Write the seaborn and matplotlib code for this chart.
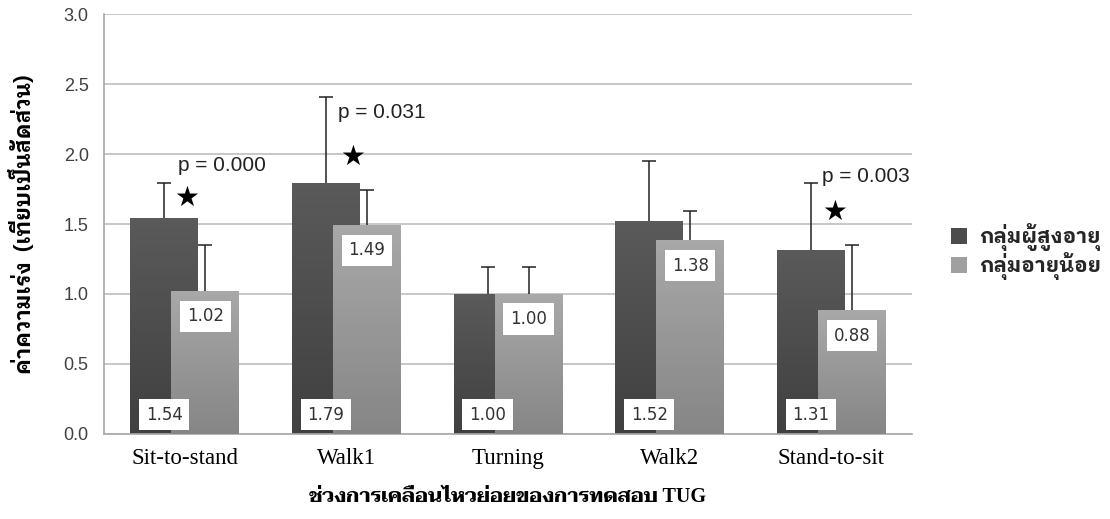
import matplotlib
matplotlib.use("Agg")
import matplotlib.pyplot as plt
import numpy as np
import pandas as pd
import seaborn as sns
from matplotlib.colors import LinearSegmentedColormap

phases = ['Sit-to-stand', 'Walk1', 'Turning', 'Walk2', 'Stand-to-sit']
elderly = [1.54, 1.79, 1.00, 1.52, 1.31]
elderly_sd = [0.25, 0.62, 0.19, 0.43, 0.48]
young = [1.02, 1.49, 1.00, 1.38, 0.88]
young_sd = [0.33, 0.25, 0.19, 0.21, 0.47]
groups = ['กลุ่มผู้สูงอายุ', 'กลุ่มอายุน้อย']
p_labels = {0: 'p = 0.000', 1: 'p = 0.031', 4: 'p = 0.003'}

THAI = ['IBM Plex Sans Thai Looped', 'DejaVu Sans']
THAI_SERIF = ['Liberation Serif', 'Taviraj']

sns.set_theme(style='white')
plt.rcParams['font.family'] = ['Liberation Sans', 'IBM Plex Sans Thai Looped']

fig = plt.figure(figsize=(11.1, 5.19), dpi=100)
ax = fig.add_axes([0.0937, 0.1638, 0.728, 0.8092])

width = 0.42
shift = 0.127
series = [
    (elderly, elderly_sd, groups[0], '#4c4c4c', ('#5a5a5a', '#404040'), -shift, 2),
    (young, young_sd, groups[1], '#a0a0a0', ('#a8a8a8', '#868686'), shift, 4),
]

handles = []
for vals, sd, name, color, grad, off, z in series:
    df = pd.DataFrame({'phase': phases, 'value': vals})
    before = len(ax.patches)
    sns.barplot(data=df, x='phase', y='value', color=color, width=width,
                errorbar=None, ax=ax, zorder=z, saturation=1, label=name)
    bars = ax.patches[before:]
    handles.append(bars[0])
    xs = []
    for b in bars:
        b.set_x(b.get_x() + off)
        b.set_edgecolor('none')
        b.set_zorder(z)
        xs.append(b.get_x() + b.get_width() / 2)
    cmap = LinearSegmentedColormap.from_list('g', [grad[1], grad[0]])
    for b in bars:
        x0, h = b.get_x(), b.get_height()
        ax.imshow(np.linspace(0, 1, 64).reshape(-1, 1), origin='lower', cmap=cmap,
                  extent=[x0, x0 + b.get_width(), 0, h], aspect='auto', zorder=z + 0.5)
    eb = ax.errorbar(xs, vals, yerr=[np.zeros(len(sd)), sd], fmt='none', ecolor='#222222',
                     elinewidth=1.1, capsize=5, capthick=1.1, zorder=z - 0.5)
    eb[1][0].set_visible(False)  # no cap at bar top
    for x, v in zip(xs, vals):
        if off < 0:
            ax.annotate(f'{v:.2f}', (x, 0), xytext=(0, 14), textcoords='offset points',
                        ha='center', va='center', fontsize=12, color='#333333', zorder=10,
                        family='DejaVu Sans',
                        bbox=dict(boxstyle='square,pad=0.4', fc='white', ec='none'))
        else:
            ax.annotate(f'{v:.2f}', (x, v), xytext=(0, -18), textcoords='offset points',
                        ha='center', va='center', fontsize=12, color='#333333', zorder=10,
                        family='DejaVu Sans',
                        bbox=dict(boxstyle='square,pad=0.4', fc='white', ec='none'))

# significance marks
star_pos = {0: (0.01, 1.69), 1: (0.04, 1.98), 4: (0.02, 1.59)}
ptext_pos = {0: (-0.04, 1.92), 1: (-0.05, 2.30), 4: (-0.06, 1.84)}
for i, lab in p_labels.items():
    sx, sy = star_pos[i]
    ax.text(i + sx, sy, '★', ha='center', va='center', fontsize=20, color='black',
            family='DejaVu Sans', zorder=12)
    px, py = ptext_pos[i]
    ax.text(i + px, py, lab, ha='left', va='center', fontsize=15, color='#222222', zorder=12)

ax.set_xlim(-0.5, 4.5)
ax.set_ylim(0, 3.0)
ax.set_yticks(np.arange(0, 3.01, 0.5))
ax.set_yticklabels([f'{t:.1f}' for t in np.arange(0, 3.01, 0.5)])
ax.yaxis.grid(True, color='#bdbdbd', linewidth=1.2, zorder=0)
ax.set_axisbelow(True)
for s in ['top', 'right']:
    ax.spines[s].set_visible(False)
for s in ['left', 'bottom']:
    ax.spines[s].set_color('#a8a8a8')
    ax.spines[s].set_linewidth(1.2)
ax.tick_params(axis='both', length=0)
ax.tick_params(axis='y', labelsize=13, labelcolor='#404040', pad=11)
ax.tick_params(axis='x', pad=10)
for t in ax.get_xticklabels():
    t.set_fontfamily('Liberation Serif')
    t.set_fontsize(16.5)
    t.set_color('black')

ax.set_xlabel('ช่วงการเคลื่อนไหวย่อยของการทดสอบ TUG', family=THAI_SERIF,
              fontsize=14.5, fontweight='bold', color='black', labelpad=13)
ax.set_ylabel('ค่าความเร่ง  (เทียบเป็นสัดส่วน)', family=THAI, fontsize=15.5,
              fontweight='bold', color='black')
ax.yaxis.set_label_coords(-0.086, 0.5)

ax.legend(handles=handles, labels=groups, loc='center left',
          bbox_to_anchor=(0.84, 0.515), bbox_transform=fig.transFigure,
          frameon=False, handlelength=0.75, handleheight=0.75, handletextpad=0.6,
          labelspacing=0.05, prop={'family': THAI, 'size': 15, 'weight': 'bold'})

fig.savefig('out.png', dpi=100)
